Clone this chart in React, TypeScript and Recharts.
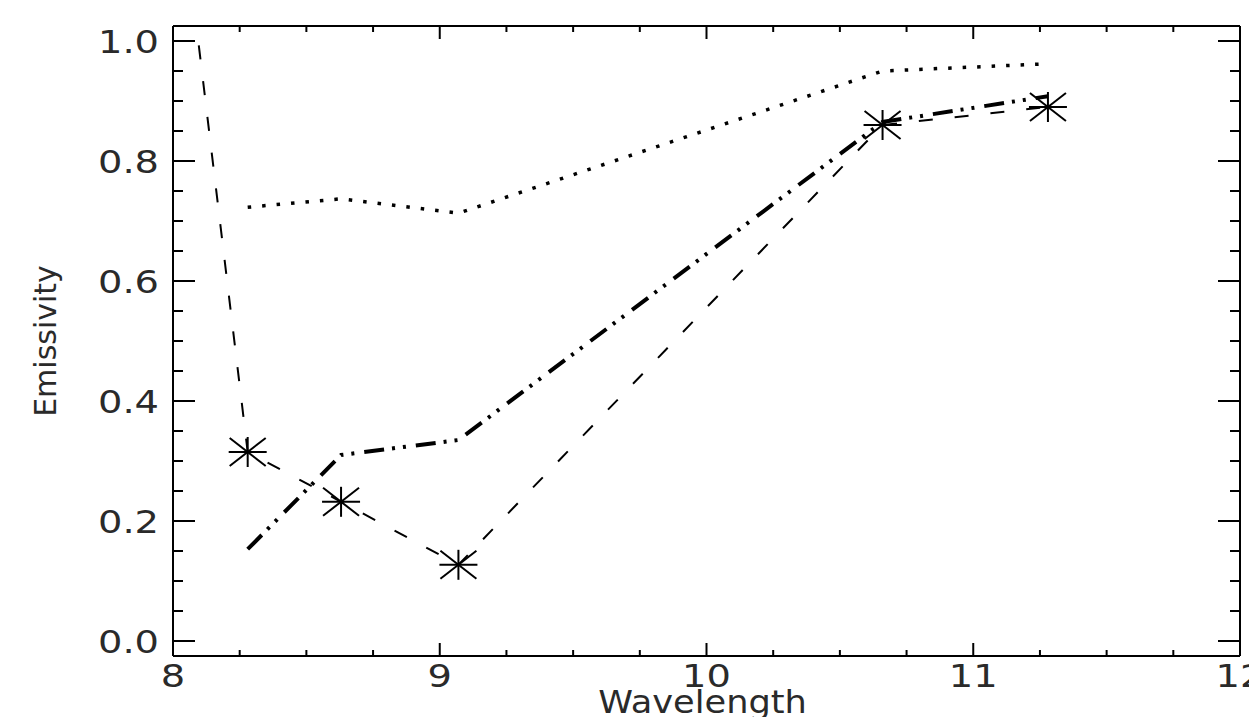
import React from 'react';
import { LineChart, Line, XAxis, YAxis } from 'recharts';

// ASTER TIR band centres (µm)
const wavelengths = [8.28, 8.63, 9.07, 10.66, 11.28];
const dottedValues = [0.723, 0.737, 0.713, 0.95, 0.962];
const dashDotValues = [0.153, 0.31, 0.335, 0.865, 0.908];
const starValues = [0.315, 0.232, 0.127, 0.86, 0.89];
// the dashed/star series enters from above the plot window on the left
const starLeadInX = 8.0;
const starLeadInY = 1.35;

const xTicks = [8, 8.25, 8.5, 8.75, 9, 9.25, 9.5, 9.75, 10, 10.25, 10.5, 10.75, 11, 11.25, 11.5, 11.75, 12];
const xMajorTicks = [8, 9, 10, 11, 12];
const xTickLabels = ['8', '9', '10', '11', '12'];
const yTicks = [0, 0.05, 0.1, 0.15, 0.2, 0.25, 0.3, 0.35, 0.4, 0.45, 0.5, 0.55, 0.6, 0.65, 0.7, 0.75, 0.8, 0.85, 0.9, 0.95, 1.0];
const yMajorTicks = [0, 0.2, 0.4, 0.6, 0.8, 1.0];
const yTickLabels = ['0.0', '0.2', '0.4', '0.6', '0.8', '1.0'];

const dottedData = wavelengths.map((x, i) => ({ x, y: dottedValues[i] }));
const dashDotData = wavelengths.map((x, i) => ({ x, y: dashDotValues[i] }));
const starData = [{ x: starLeadInX, y: starLeadInY }, ...wavelengths.map((x, i) => ({ x, y: starValues[i] }))];

const FONT = '"DejaVu Sans", sans-serif';
const TICK_FS = 32;
const TICK_STRETCH = 1.2;
const TEXT_FILL = '#2a2a2a';

const majorIndex = (list: number[], v: number) => list.findIndex((m) => Math.abs(m - v) < 1e-6);

const XTickBottom = (props: any) => {
  const { x, y, payload } = props;
  const mi = majorIndex(xMajorTicks, payload.value);
  const len = mi >= 0 ? 13 : 6;
  return (
    <g>
      <line x1={x} y1={y} x2={x} y2={y - len} stroke="#000" strokeWidth={2} />
      {mi >= 0 && (
        <text
          transform={`translate(${x},${y + 31}) scale(${TICK_STRETCH},1)`}
          x={0}
          y={0}
          textAnchor="middle"
          fontFamily={FONT}
          fontSize={TICK_FS}
          fill={TEXT_FILL}
        >
          {xTickLabels[mi]}
        </text>
      )}
    </g>
  );
};

const XTickTop = (props: any) => {
  const { x, y, payload } = props;
  const mi = majorIndex(xMajorTicks, payload.value);
  const len = mi >= 0 ? 13 : 6;
  return <line x1={x} y1={y} x2={x} y2={y + len} stroke="#000" strokeWidth={2} />;
};

const YTickLeft = (props: any) => {
  const { x, y, payload } = props;
  const mi = majorIndex(yMajorTicks, payload.value);
  const len = mi >= 0 ? 22 : 10;
  return (
    <g>
      <line x1={x} y1={y} x2={x + len} y2={y} stroke="#000" strokeWidth={2} />
      {mi >= 0 && (
        <text
          transform={`translate(${x - 14},${y + 11.5}) scale(${TICK_STRETCH},1)`}
          x={0}
          y={0}
          textAnchor="end"
          fontFamily={FONT}
          fontSize={TICK_FS}
          fill={TEXT_FILL}
        >
          {yTickLabels[mi]}
        </text>
      )}
    </g>
  );
};

const YTickRight = (props: any) => {
  const { x, y, payload } = props;
  const mi = majorIndex(yMajorTicks, payload.value);
  const len = mi >= 0 ? 22 : 10;
  return <line x1={x} y1={y} x2={x - len} y2={y} stroke="#000" strokeWidth={2} />;
};

const StarDot = (props: any) => {
  const { cx, cy, payload, index } = props;
  if (cx == null || cy == null || payload.y > 1.025) return <g key={`s${index}`} />;
  const h = 19, v = 15, dx = 18, dy = 14;
  return (
    <g key={`s${index}`} stroke="#000" strokeWidth={2}>
      <line x1={cx - h} y1={cy} x2={cx + h} y2={cy} />
      <line x1={cx} y1={cy - v} x2={cx} y2={cy + v} />
      <line x1={cx - dx} y1={cy - dy} x2={cx + dx} y2={cy + dy} />
      <line x1={cx - dx} y1={cy + dy} x2={cx + dx} y2={cy - dy} />
    </g>
  );
};

const XLabel = (props: any) => {
  const vb = props.viewBox || { x: 0, y: 0, width: 0, height: 0 };
  const cx = vb.x + vb.width / 2 - 4;
  const cy = vb.y + 57;
  return (
    <text
      transform={`translate(${cx},${cy}) scale(1.1,1)`}
      x={0}
      y={0}
      textAnchor="middle"
      fontFamily={FONT}
      fontSize={32}
      fill={TEXT_FILL}
    >
      Wavelength
    </text>
  );
};

const YLabel = (props: any) => {
  const vb = props.viewBox || { x: 0, y: 0, width: 0, height: 0 };
  const cx = vb.x + vb.width - 117;
  const cy = vb.y + vb.height / 2;
  return (
    <text x={cx} y={cy} transform={`rotate(-90 ${cx} ${cy})`} textAnchor="middle" fontFamily={FONT} fontSize={30} fill={TEXT_FILL}>
      Emissivity
    </text>
  );
};

export default function App() {
  return (
    <div style={{ position: 'absolute', left: 0, top: 0, width: 1249, height: 717, background: '#fff', overflow: 'hidden' }}>
      <LineChart width={1249} height={717} margin={{ top: 25, right: 8, bottom: 60, left: 172 }}>
        <XAxis
          xAxisId="b"
          type="number"
          dataKey="x"
          domain={[8, 12]}
          ticks={xTicks}
          interval={0}
          allowDataOverflow
          height={1}
          tickSize={0}
          tickMargin={0}
          tickLine={false}
          axisLine={{ stroke: '#000', strokeWidth: 2 }}
          tick={(p: any) => <XTickBottom key={`xb-${p.index}`} {...p} />}
          label={<XLabel />}
        />
        <XAxis
          xAxisId="t"
          orientation="top"
          type="number"
          dataKey="x"
          domain={[8, 12]}
          ticks={xTicks}
          interval={0}
          allowDataOverflow
          height={1}
          tickSize={0}
          tickMargin={0}
          tickLine={false}
          axisLine={{ stroke: '#000', strokeWidth: 2 }}
          tick={(p: any) => <XTickTop key={`xt-${p.index}`} {...p} />}
        />
        <YAxis
          yAxisId="l"
          type="number"
          domain={[-0.025, 1.025]}
          ticks={yTicks}
          interval={0}
          allowDataOverflow
          width={1}
          tickSize={0}
          tickMargin={0}
          tickLine={false}
          axisLine={{ stroke: '#000', strokeWidth: 2 }}
          tick={(p: any) => <YTickLeft key={`yl-${p.index}`} {...p} />}
          label={<YLabel />}
        />
        <YAxis
          yAxisId="r"
          orientation="right"
          type="number"
          domain={[-0.025, 1.025]}
          ticks={yTicks}
          interval={0}
          allowDataOverflow
          width={1}
          tickSize={0}
          tickMargin={0}
          tickLine={false}
          axisLine={{ stroke: '#000', strokeWidth: 2 }}
          tick={(p: any) => <YTickRight key={`yr-${p.index}`} {...p} />}
        />
        <Line
          xAxisId="b"
          yAxisId="l"
          data={dottedData}
          dataKey="y"
          type="linear"
          stroke="#000"
          strokeWidth={3.5}
          strokeDasharray="3.5 11"
          dot={false}
          activeDot={false}
          isAnimationActive={false}
        />
        <Line
          xAxisId="b"
          yAxisId="l"
          data={dashDotData}
          dataKey="y"
          type="linear"
          stroke="#000"
          strokeWidth={4}
          strokeDasharray="20 8 3 8 3 10"
          dot={false}
          activeDot={false}
          isAnimationActive={false}
        />
        <Line
          xAxisId="b"
          yAxisId="l"
          data={starData}
          dataKey="y"
          type="linear"
          stroke="#000"
          strokeWidth={2}
          strokeDasharray="14 22"
          dot={(p: any) => <StarDot key={`star-${p.index}`} {...p} />}
          activeDot={false}
          isAnimationActive={false}
        />
      </LineChart>
    </div>
  );
}
